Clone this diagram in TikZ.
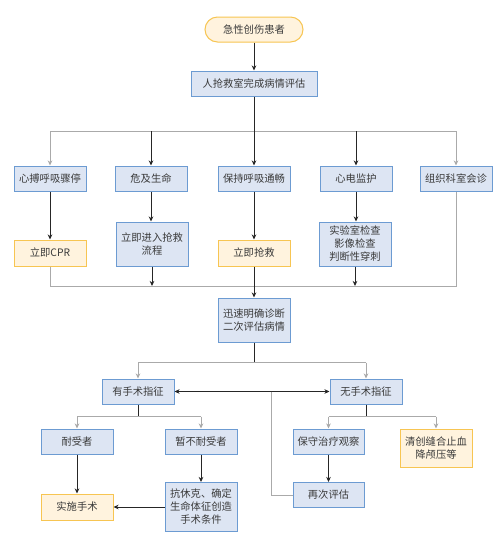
\documentclass[tikz,border=0pt]{standalone}
\usepackage{fontspec}
\setmainfont{Noto Sans CJK SC}
\usetikzlibrary{arrows.meta}
\definecolor{bbord}{HTML}{6C9BD2}
\definecolor{bfill}{HTML}{DDE5F3}
\definecolor{obord}{HTML}{F7C552}
\definecolor{ofill}{HTML}{FFF3DE}
\definecolor{gline}{HTML}{AAAAAA}
\definecolor{txt}{HTML}{3A3A3A}
\tikzset{
  box/.style={draw=bbord, fill=bfill, line width=1pt, text=txt, align=center,
    font=\fontsize{10.3}{13}\selectfont, inner sep=0pt, minimum width=72pt, minimum height=25pt},
  obox/.style={box, draw=obord, fill=ofill},
  tip/.style={-{Stealth[length=5pt,width=4.5pt,inset=1.5pt]}},
  blk/.style={draw=black!85, line width=0.8pt},
  gry/.style={draw=gline, line width=0.8pt},
}
\begin{document}
\begin{tikzpicture}[x=1pt,y=-1pt]
\useasboundingbox (0,0) rectangle (498,536);
\fill[white] (0,0) rectangle (498,536);
% nodes
\node[obox, rounded corners=12.5pt, minimum width=98pt] (start) at (254,29.5) {急性创伤患者};
\node[box, minimum width=126pt] (assess) at (254,83.5) {人抢救室完成病情评估};
\node[box] (r1a) at (50,178.5) {心搏呼吸骤停};
\node[box] (r1b) at (151,178.5) {危及生命};
\node[box] (r1c) at (254,178.5) {保持呼吸通畅};
\node[box] (r1d) at (356,178.5) {心电监护};
\node[box] (r1e) at (456,178.5) {组织科室会诊};
\node[obox, minimum height=26pt] (r2a) at (50,253) {立即CPR};
\node[box, minimum height=44pt] (r2b) at (152,244) {立即进入抢救\\流程};
\node[obox, minimum height=26pt] (r2c) at (254,253) {立即抢救};
\node[box, minimum height=44pt] (r2d) at (355,244) {实验室检查\\影像检查\\判断性穿刺};
\node[box, minimum height=44pt] (diag) at (254,320) {迅速明确诊断\\二次评估病情};
\node[box] (yes) at (138,391.5) {有手术指征};
\node[box] (no) at (366,391.5) {无手术指征};
\node[box] (tol) at (77,441.5) {耐受者};
\node[box] (ntol) at (201,441.5) {暂不耐受者};
\node[box, minimum width=71pt] (cons) at (328.5,441.5) {保守治疗观察};
\node[obox, minimum height=38pt] (debr) at (436,448) {清创缝合止血\\降颅压等};
\node[obox, minimum height=26pt] (surg) at (77,507) {实施手术};
\node[box, minimum height=49pt] (shock) at (201,507) {抗休克、确定\\生命体征创造\\手术条件};
\node[box, minimum width=71pt] (reeval) at (328.5,495) {再次评估};
% coordinates
\coordinate (h1) at (254,131);
\coordinate (h2) at (254,286);
\coordinate (h3) at (254,362.7);
\coordinate (vx) at (271.7,391.5);
% top connectors
\draw[blk,tip] (start) -- (assess);
\draw[gry] (r1a.north |- h1) -- (r1e.north |- h1);
\draw[gry,tip] (r1a.north |- h1) -- (r1a.north);
\draw[gry,tip] (r1e.north |- h1) -- (r1e.north);
\draw[blk,tip] (r1b.north |- h1) -- (r1b.north);
\draw[blk,tip] (r1d.north |- h1) -- (r1d.north);
\draw[blk,tip] (assess) -- (r1c);
\draw[blk,tip] (r1a) -- (r2a);
\draw[blk,tip] (r1b.south) -- (r1b.south |- r2b.north);
\draw[blk,tip] (r1c) -- (r2c);
\draw[blk,tip] (r1d.south) -- (r1d.south |- r2d.north);
% merge line
\draw[gry] (r2a.south) |- (r1e.south |- h2) -- (r1e.south);
\draw[blk,tip] (r2b.south) -- (r2b.south |- h2);
\draw[blk,tip] (r2d.south) -- (r2d.south |- h2);
\draw[blk,tip] (r2c) -- (diag);
% diagnosis split
\draw[blk] (diag.south) -- (h3);
\draw[gry] (yes.north |- h3) -- (no.north |- h3);
\draw[gry,tip] (yes.north |- h3) -- (yes.north);
\draw[gry,tip] (no.north |- h3) -- (no.north);
\draw[blk,{Stealth[length=5pt,width=4.5pt,inset=1.5pt]}-{Stealth[length=5pt,width=4.5pt,inset=1.5pt]}] (yes) -- (no);
\draw[gry] (vx) |- (reeval.west);
% yes branch
\coordinate (h4) at (0,416.7);
\draw[blk] (yes.south) -- (yes.south |- h4);
\draw[gry] (tol.north |- h4) -- (ntol.north |- h4);
\draw[gry,tip] (tol.north |- h4) -- (tol.north);
\draw[gry,tip] (ntol.north |- h4) -- (ntol.north);
\draw[blk,tip] (tol) -- (surg);
\draw[blk,tip] (ntol) -- (shock);
\draw[blk,tip] (shock) -- (surg);
% no branch
\draw[blk] (no.south) -- (no.south |- h4);
\draw[gry] (cons.north |- h4) -- (debr.north |- h4);
\draw[gry,tip] (cons.north |- h4) -- (cons.north);
\draw[gry,tip] (debr.north |- h4) -- (debr.north);
\draw[blk,tip] (cons) -- (reeval);
\end{tikzpicture}
\end{document}
